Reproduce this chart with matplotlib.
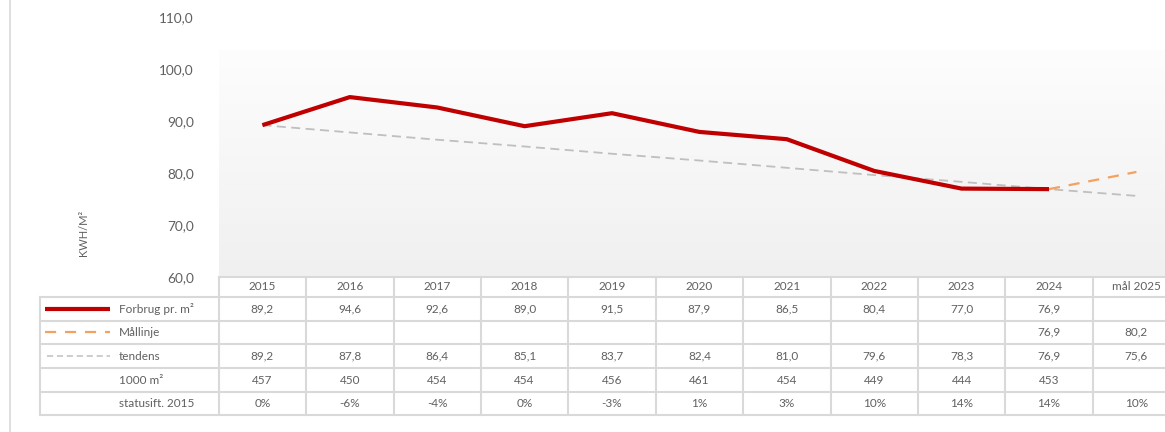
import matplotlib
matplotlib.use("Agg")
import matplotlib.pyplot as plt
import numpy as np
from matplotlib.lines import Line2D

plt.rcParams["font.family"] = ["Lato", "DejaVu Sans"]

years = ["2015", "2016", "2017", "2018", "2019", "2020", "2021", "2022", "2023", "2024", "mål 2025"]
forbrug = [89.2, 94.6, 92.6, 89.0, 91.5, 87.9, 86.5, 80.4, 77.0, 76.9, None]
maallinje = [None, None, None, None, None, None, None, None, None, 76.9, 80.2]
tendens = [89.2, 87.8, 86.4, 85.1, 83.7, 82.4, 81.0, 79.6, 78.3, 76.9, 75.6]
areal = [457, 450, 454, 454, 456, 461, 454, 449, 444, 453, None]
status = ["0%", "-6%", "-4%", "0%", "-3%", "1%", "3%", "10%", "14%", "14%", "10%"]

RED = "#c00000"
ORANGE = "#f4a05e"
GREY = "#bfbfbf"
TXT = "#606060"
GRID = "#d9d9d9"

W, H = 1165, 432
fig = plt.figure(figsize=(W / 100, H / 100), dpi=100)

# pixel layout of the Excel chart
col_left, col_w = 218.7, 87.4
ncol = len(years)
col_right = col_left + ncol * col_w
ax_top, ax_bot = 17, 277
tbl_left, tbl_bot = 40, 415


def fx(px):
    return px / W


def fy(py):
    return 1 - py / H


ax = fig.add_axes([fx(col_left), fy(ax_bot), fx(col_right - col_left), (ax_bot - ax_top) / H])
x = np.arange(ncol)

# gradient plot area (starts below the top tick)
grad = np.linspace(0, 1, 256).reshape(-1, 1)
top_frac = (ax_bot - 50) / (ax_bot - ax_top)
cmap = matplotlib.colors.LinearSegmentedColormap.from_list("g", ["#fdfdfd", "#f0f0f0"])
ax.imshow(grad, extent=[0, 1, 0, top_frac], transform=ax.transAxes, aspect="auto",
          cmap=cmap, zorder=0)

fv = np.array([np.nan if v is None else v for v in forbrug], dtype=float)
mv = np.array([np.nan if v is None else v for v in maallinje], dtype=float)
tv = np.array(tendens, dtype=float)

ax.plot(x, tv, color=GREY, lw=1.3, ls=(0, (5, 3)), zorder=2)
ax.plot(x, mv, color=ORANGE, lw=1.6, ls=(0, (5, 4)), zorder=2)
ax.plot(x, fv, color=RED, lw=3.0, solid_joinstyle="round", solid_capstyle="butt", zorder=3)

ax.set_xlim(-0.5, ncol - 0.5)
ax.set_ylim(60, 110)
ax.set_yticks(np.arange(60, 111, 10))
ax.set_yticklabels([f"{v:.1f}".replace(".", ",") for v in np.arange(60, 111, 10)])
ax.tick_params(axis="y", length=0, pad=18, labelsize=9.8, labelcolor=TXT)
ax.set_xticks([])
for s in ax.spines.values():
    s.set_visible(False)
ax.set_facecolor("none")

fig.text(fx(83), fy(233), "KWH/M²", rotation=90, ha="center", va="center",
         fontsize=8, color=TXT)

# data table
lw_cols = (col_left - tbl_left) / col_w
tx = fig.add_axes([fx(tbl_left), fy(tbl_bot), fx(col_right - tbl_left), (tbl_bot - ax_bot) / H])
tx.set_xlim(-0.5 - lw_cols, ncol - 0.5)
rows = [277, 297, 320.5, 344, 368, 392, 415]
tx.set_ylim(rows[-1], rows[0])
tx.axis("off")

tx.plot([-0.5, ncol - 0.5], [rows[0], rows[0]], color=GRID, lw=1.5, clip_on=False)
for r in rows[1:]:
    tx.plot([-0.5 - lw_cols, ncol - 0.5], [r, r], color=GRID, lw=1.5, clip_on=False)
for i in range(ncol + 1):
    tx.plot([i - 0.5, i - 0.5], [rows[0], rows[-1]], color=GRID, lw=1.5, clip_on=False)
tx.plot([-0.5 - lw_cols] * 2, [rows[1], rows[-1]], color=GRID, lw=1.5, clip_on=False)

fs = 8.5
centers = [(rows[k] + rows[k + 1]) / 2 for k in range(len(rows) - 1)]
for i, yr in enumerate(years):
    tx.text(i, centers[0], yr, ha="center", va="center", fontsize=fs, color=TXT)


def fmt(v):
    return "" if v is None else f"{v:.1f}".replace(".", ",")


series_rows = [
    [fmt(v) for v in forbrug],
    [fmt(v) for v in maallinje],
    [fmt(v) for v in tendens],
    ["" if v is None else str(v) for v in areal],
    status,
]
for k, vals in enumerate(series_rows):
    for i, s in enumerate(vals):
        tx.text(i, centers[k + 1], s, ha="center", va="center", fontsize=fs, color=TXT)

labels = ["Forbrug pr. m²", "Mållinje", "tendens", "1000 m²", "statusift. 2015"]
x0 = -0.5 - lw_cols
for k, lab in enumerate(labels):
    tx.text(x0 + 0.9, centers[k + 1], lab, ha="left", va="center", fontsize=fs, color=TXT)

tx.plot([x0 + 0.06, x0 + 0.8], [centers[1]] * 2, color=RED, lw=3.0, solid_capstyle="butt")
tx.plot([x0 + 0.06, x0 + 0.8], [centers[2]] * 2, color=ORANGE, lw=1.6, ls=(0, (5, 4)))
tx.plot([x0 + 0.08, x0 + 0.8], [centers[3]] * 2, color=GREY, lw=1.1, ls=(0, (4, 2.5)))

fig.add_artist(Line2D([fx(9.5)] * 2, [0, 1], color=GRID, lw=1.2))

fig.savefig("out.png", dpi=100, facecolor="white")
